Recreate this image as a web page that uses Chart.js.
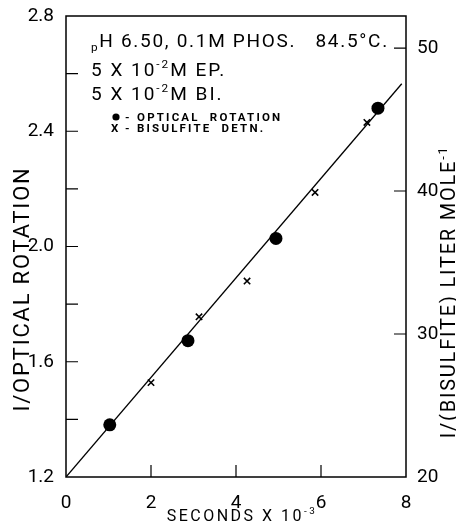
<!DOCTYPE html>
<html>
<head>
<meta charset="utf-8">
<script src="https://cdn.jsdelivr.net/npm/chart.js@4.4.1/dist/chart.umd.min.js"></script>
<style>
  html, body { margin: 0; padding: 0; background: #fff; }
</style>
</head>
<body>
<canvas id="chart" width="456" height="527"></canvas>
<script>
// values
const secondsOptical = [1.03, 2.87, 4.94, 7.34];
const opticalRotation = [1.381, 1.673, 2.028, 2.48];
const secondsBisulfite = [2.0, 3.13, 4.26, 5.86, 7.08];
const bisulfiteInv = [26.6, 31.2, 33.7, 39.9, 44.8];
const fitSeconds = [0, 7.9];
const fitValues = [1.2, 2.565];

const xTicks = [0, 2, 4, 6, 8];
const yTicks = [1.2, 1.4, 1.6, 1.8, 2.0, 2.2, 2.4, 2.6, 2.8];
const yLabels = [1.2, 1.6, 2.0, 2.4, 2.8];
const y2Ticks = [20, 30, 40, 50];

const FAMILY = "Roboto, 'Liberation Sans', sans-serif";

function toPoints(xs, ys) {
    return xs.map((x, i) => ({ x: x, y: ys[i] }));
}

function fontOf(size, weight) {
    return weight + ' ' + size + 'px ' + FAMILY;
}

// parts: [text, 'n' | 'sup' | 'sub']
function richWidth(ctx, parts, size, weight) {
    let w = 0;
    parts.forEach(([t, mode]) => {
        ctx.font = fontOf(mode === 'n' ? size : size * 0.62, weight);
        w += ctx.measureText(t).width;
    });
    return w;
}

function drawRich(ctx, x, y, parts, size, weight) {
    parts.forEach(([t, mode]) => {
        const s = mode === 'n' ? size : size * 0.62;
        const dy = mode === 'sup' ? -size * 0.42 : (mode === 'sub' ? size * 0.2 : 0);
        ctx.font = fontOf(s, weight);
        ctx.fillText(t, x, y + dy);
        x += ctx.measureText(t).width;
    });
    return x;
}

const framePlugin = {
    id: 'frame',
    beforeDatasetsDraw(chart) {
        const ctx = chart.ctx;
        const a = chart.chartArea;
        const sx = chart.scales.x, sy = chart.scales.y, sy2 = chart.scales.y2;
        ctx.save();
        ctx.strokeStyle = '#000';
        ctx.lineWidth = 1.5;
        ctx.strokeRect(a.left, a.top, a.right - a.left, a.bottom - a.top);
        ctx.lineWidth = 1.2;
        ctx.beginPath();
        yTicks.slice(1, -1).forEach(v => {
            const p = sy.getPixelForValue(v);
            ctx.moveTo(a.left, p); ctx.lineTo(a.left + 12, p);
        });
        y2Ticks.slice(1).forEach(v => {
            const p = sy2.getPixelForValue(v);
            ctx.moveTo(a.right - 12, p); ctx.lineTo(a.right, p);
        });
        xTicks.slice(1, -1).forEach(v => {
            const p = sx.getPixelForValue(v);
            ctx.moveTo(p, a.bottom); ctx.lineTo(p, a.bottom - 12);
        });
        ctx.stroke();
        ctx.restore();
    },
    afterDraw(chart) {
        const ctx = chart.ctx;
        const a = chart.chartArea;
        ctx.save();
        ctx.fillStyle = '#000';
        ctx.textBaseline = 'alphabetic';
        ctx.textAlign = 'left';

        // condition block
        ctx.letterSpacing = '1.7px';
        const tx = a.left + 25;
        drawRich(ctx, tx, 47, [['p', 'sub'], ['H 6.50, 0.1M PHOS.   84.5°C.', 'n']], 19, 400);
        ctx.letterSpacing = '2px';
        drawRich(ctx, tx, 76, [['5 X 10', 'n'], ['-2', 'sup'], ['M EP.', 'n']], 19, 400);
        drawRich(ctx, tx, 100, [['5 X 10', 'n'], ['-2', 'sup'], ['M BI.', 'n']], 19, 400);

        // key
        ctx.letterSpacing = '2.2px';
        ctx.beginPath();
        ctx.arc(116, 117, 3.6, 0, Math.PI * 2);
        ctx.fill();
        ctx.font = fontOf(11.5, 'bold');
        ctx.fillText('-', 125, 121);
        ctx.fillText('OPTICAL  ROTATION', 137, 121);
        ctx.fillText('X', 111, 132);
        ctx.fillText('-', 125, 132);
        ctx.fillText('BISULFITE  DETN.', 137, 132);

        // x title
        ctx.letterSpacing = '2.5px';
        const xt = [['SECONDS X 10', 'n'], ['-3', 'sup']];
        const xw = richWidth(ctx, xt, 16, 400);
        drawRich(ctx, 242 - xw / 2, 521, xt, 16, 400);

        // left title
        ctx.letterSpacing = '1.8px';
        const lt = [['I/OPTICAL ROTATION', 'n']];
        const lw = richWidth(ctx, lt, 22, 400);
        ctx.save();
        ctx.translate(29, 289);
        ctx.rotate(-Math.PI / 2);
        drawRich(ctx, -lw / 2, 0, lt, 22, 400);
        ctx.restore();

        // right title
        ctx.letterSpacing = '1.8px';
        const rt = [['I/(BISULFITE) LITER MOLE', 'n'], ['-1', 'sup']];
        const rw = richWidth(ctx, rt, 20, 400);
        ctx.save();
        ctx.translate(455, 292);
        ctx.rotate(-Math.PI / 2);
        drawRich(ctx, -rw / 2, 0, rt, 20, 400);
        ctx.restore();

        ctx.restore();
    }
};

const tickFont = { family: FAMILY, size: 19, weight: '400' };

new Chart(document.getElementById('chart'), {
    type: 'scatter',
    data: {
        datasets: [
            {
                type: 'line',
                data: toPoints(fitSeconds, fitValues),
                yAxisID: 'y',
                borderColor: '#000',
                borderWidth: 1.3,
                pointRadius: 0,
                fill: false
            },
            {
                data: toPoints(secondsOptical, opticalRotation),
                yAxisID: 'y',
                pointStyle: 'circle',
                pointRadius: 6.5,
                backgroundColor: '#000',
                borderColor: '#000',
                borderWidth: 0
            },
            {
                data: toPoints(secondsBisulfite, bisulfiteInv),
                yAxisID: 'y2',
                pointStyle: 'crossRot',
                pointRadius: 4.5,
                borderColor: '#000',
                borderWidth: 1.6
            }
        ]
    },
    options: {
        responsive: false,
        animation: false,
        devicePixelRatio: 1,
        layout: { padding: { top: 16, left: 0, right: 0, bottom: 0 } },
        plugins: { legend: { display: false }, tooltip: { enabled: false } },
        scales: {
            x: {
                type: 'linear', min: 0, max: 8,
                afterBuildTicks: s => { s.ticks = xTicks.map(v => ({ value: v })); },
                afterFit: s => { s.height = 50; },
                grid: { display: false }, border: { display: false },
                ticks: { font: tickFont, color: '#000', padding: 7, maxRotation: 0 }
            },
            y: {
                type: 'linear', position: 'left', min: 1.2, max: 2.8,
                afterBuildTicks: s => { s.ticks = yTicks.map(v => ({ value: v })); },
                afterFit: s => { s.width = 66; },
                grid: { display: false }, border: { display: false },
                ticks: {
                    font: tickFont, color: '#000', padding: 4,
                    callback: v => yLabels.some(l => Math.abs(l - v) < 1e-6) ? v.toFixed(1) : ''
                }
            },
            y2: {
                type: 'linear', position: 'right', min: 20, max: 52.24,
                afterBuildTicks: s => { s.ticks = y2Ticks.map(v => ({ value: v })); },
                afterFit: s => { s.width = 50; },
                grid: { display: false }, border: { display: false },
                ticks: { font: tickFont, color: '#000', padding: 3 }
            }
        }
    },
    plugins: [framePlugin]
});
</script>
</body>
</html>
